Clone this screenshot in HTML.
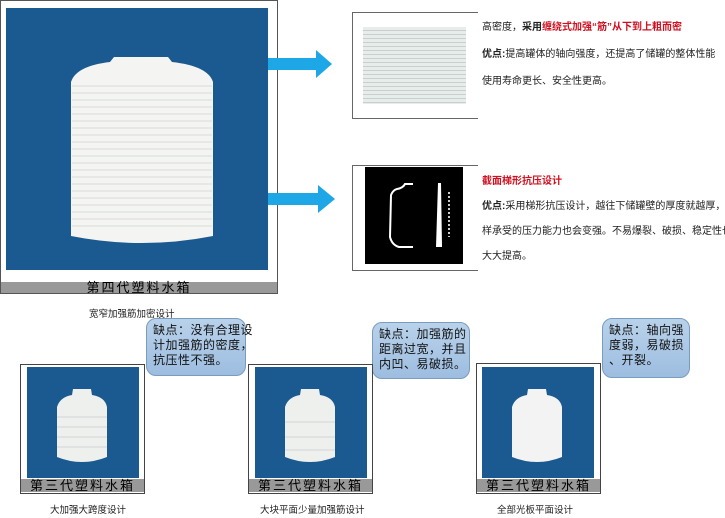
<!DOCTYPE html><html><head><meta charset="utf-8"><style>
body{margin:0;width:725px;height:518px;background:#fff;position:relative;overflow:hidden;font-family:"Liberation Sans","Noto Sans CJK SC",sans-serif}
.a{position:absolute}
.cap{position:absolute;background:#999;color:#000;text-align:center;font-size:13px;line-height:13px;letter-spacing:2px}
.bub{position:absolute;background:linear-gradient(#b9d2ea,#9dbde0);border:1px solid #7a9cc0;border-radius:10px;font-size:12px;line-height:15px;color:#111;padding:4px 4px 4px 6px;box-sizing:border-box;white-space:nowrap;letter-spacing:0.5px}
.t{position:absolute;font-size:10px;color:#222;white-space:nowrap}
.lbl{position:absolute;font-size:9.5px;color:#222;white-space:nowrap}
</style></head><body>
<div class="a" style="left:0;top:0;width:276px;height:292px;border:1px solid #555;"></div>
<div class="a" style="left:6px;top:8px;width:262px;height:262px;background:#1b5a91"></div>
<svg class="a" style="left:0;top:0" width="280" height="280">
<path d="M71,82 Q76,66 110,62 L114,57 L168,57 L172,62 Q208,66 213,82 L213,236 Q142,250 71,236 Z" fill="#f4f5f2"/>
<g stroke="#d8dad6" stroke-width="1">
<line x1="72" y1="86" x2="212" y2="86"/><line x1="72" y1="93" x2="212" y2="93"/><line x1="72" y1="100" x2="212" y2="100"/><line x1="72" y1="107" x2="212" y2="107"/><line x1="72" y1="114" x2="212" y2="114"/><line x1="72" y1="121" x2="212" y2="121"/><line x1="72" y1="128" x2="212" y2="128"/><line x1="72" y1="135" x2="212" y2="135"/><line x1="72" y1="142" x2="212" y2="142"/><line x1="72" y1="149" x2="212" y2="149"/><line x1="72" y1="156" x2="212" y2="156"/><line x1="72" y1="163" x2="212" y2="163"/><line x1="72" y1="170" x2="212" y2="170"/><line x1="72" y1="177" x2="212" y2="177"/><line x1="72" y1="184" x2="212" y2="184"/><line x1="72" y1="191" x2="212" y2="191"/><line x1="72" y1="198" x2="212" y2="198"/><line x1="72" y1="205" x2="212" y2="205"/><line x1="72" y1="212" x2="212" y2="212"/><line x1="72" y1="219" x2="212" y2="219"/><line x1="72" y1="226" x2="212" y2="226"/></g>
</svg>
<div class="cap" style="left:1px;top:282px;width:276px;height:11px;line-height:11px">第四代塑料水箱</div>
<svg class="a" style="left:268px;top:45px" width="80" height="170">
<polygon points="0,13 48,13 48,5 64,19 48,33 48,25 0,25" fill="#1ea7e6"/>
<polygon points="0,148 50,148 50,140 67,154 50,168 50,160 0,160" fill="#1ea7e6"/>
</svg>
<div class="a" style="left:352px;top:12px;width:125px;height:105px;border:1px solid #666;border-right:none;background:#fff"></div>
<div class="a" style="left:363px;top:27px;width:103px;height:77px;background:repeating-linear-gradient(#e8eceb 0,#e8eceb 3px,#c8d0ce 3px,#c8d0ce 4px)"></div>
<div class="a" style="left:352px;top:165px;width:125px;height:104px;border:1px solid #666;border-right:none"></div>
<div class="a" style="left:365px;top:167px;width:98px;height:97px;background:#000"></div>
<svg class="a" style="left:365px;top:167px" width="98" height="97"><path d="M48,17 L40,17 Q38,21 32,22 Q28,23 26,28 L25,70 Q27,78 34,80 L48,80" fill="none" stroke="#fff" stroke-width="2"/><polygon points="73,16 76,16 77,80 71,80" fill="#fff"/><line x1="84" y1="25" x2="84" y2="70" stroke="#ccc" stroke-width="2" stroke-dasharray="2,2"/></svg>
<div class="t" style="left:482px;top:18px">高密度，<b>采用</b><b style="color:#d01020">缠绕式加强“筋”从下到上粗而密</b></div>
<div class="t" style="left:482px;top:45px"><b>优点:</b>提高罐体的轴向强度，还提高了储罐的整体性能</div>
<div class="t" style="left:482px;top:72px">使用寿命更长、安全性更高。</div>
<div class="t" style="left:482px;top:172px"><b style="color:#d01020">截面梯形抗压设计</b></div>
<div class="t" style="left:482px;top:197px"><b>优点:</b>采用梯形抗压设计，越往下储罐壁的厚度就越厚，这</div>
<div class="t" style="left:482px;top:222px">样承受的压力能力也会变强。不易爆裂、破损、稳定性也将</div>
<div class="t" style="left:482px;top:247px">大大提高。</div>
<div class="lbl" style="left:89px;top:306px">宽窄加强筋加密设计</div>
<div class="bub" style="left:146px;top:318px;width:100px;height:58px">缺点：没有合理设<br>计加强筋的密度，<br>抗压性不强。</div>
<div class="bub" style="left:372px;top:322px;width:98px;height:57px">缺点：加强筋的<br>距离过宽，并且<br>内凹、易破损。</div>
<div class="bub" style="left:602px;top:318px;width:88px;height:60px">缺点：轴向强<br>度弱，易破损<br>、开裂。</div>

<div class="a" style="left:20px;top:364px;width:123px;height:128px;border:1px solid #444"></div>
<div class="a" style="left:27px;top:367px;width:112px;height:111px;background:#1b5a91"></div>
<svg class="a" style="left:27px;top:367px" width="112" height="111"><path d="M30,40 Q33,30 45,28 L46,22 L64,22 L65,28 Q78,30 80,40 L80,90 Q55,100 30,90 Z" fill="#eef0ee"/><g stroke="#d0d4d2"><line x1="30" y1="50" x2="80" y2="50"/><line x1="30" y1="60" x2="80" y2="60"/><line x1="30" y1="70" x2="80" y2="70"/><line x1="30" y1="80" x2="80" y2="80"/></g></svg>
<div class="cap" style="left:21px;top:479px;width:123px;height:13px">第三代塑料水箱</div>
<div class="lbl" style="left:50px;top:502px">大加强大跨度设计</div>

<div class="a" style="left:248px;top:364px;width:123px;height:128px;border:1px solid #444"></div>
<div class="a" style="left:255px;top:367px;width:112px;height:111px;background:#1b5a91"></div>
<svg class="a" style="left:255px;top:367px" width="112" height="111"><path d="M30,40 Q33,30 45,28 L46,22 L64,22 L65,28 Q78,30 80,40 L80,90 Q55,100 30,90 Z" fill="#eef0ee"/><g stroke="#d0d4d2"><line x1="30" y1="55" x2="80" y2="55"/><line x1="30" y1="70" x2="80" y2="70"/><line x1="30" y1="83" x2="80" y2="83"/></g></svg>
<div class="cap" style="left:249px;top:479px;width:123px;height:13px">第三代塑料水箱</div>
<div class="lbl" style="left:260px;top:502px">大块平面少量加强筋设计</div>

<div class="a" style="left:476px;top:363px;width:123px;height:129px;border:1px solid #444"></div>
<div class="a" style="left:482px;top:367px;width:112px;height:111px;background:#1b5a91"></div>
<svg class="a" style="left:482px;top:367px" width="112" height="111"><path d="M30,40 Q33,30 45,28 L46,22 L64,22 L65,28 Q78,30 80,40 L80,90 Q55,100 30,90 Z" fill="#f2f3f2"/></svg>
<div class="cap" style="left:477px;top:479px;width:123px;height:13px">第三代塑料水箱</div>
<div class="lbl" style="left:497px;top:502px">全部光板平面设计</div>
</body></html>
